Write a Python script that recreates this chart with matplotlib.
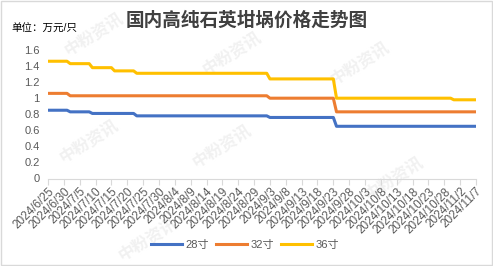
import datetime as dt
import matplotlib
matplotlib.use('Agg')
import matplotlib.pyplot as plt
from matplotlib.patches import Rectangle

plt.rcParams['font.family'] = ['Liberation Sans', 'Noto Sans CJK SC', 'DejaVu Sans']

# corner points of the step lines (2024)
dates = ['6/25', '7/1', '7/2', '7/8', '7/9', '7/15', '7/16', '7/22', '7/23',
         '9/2', '9/3', '9/23', '9/24', '10/30', '10/31', '11/7']
p28 = [0.85, 0.85, 0.83, 0.83, 0.81, 0.81, 0.81, 0.81, 0.78,
       0.78, 0.76, 0.76, 0.65, 0.65, 0.65, 0.65]
p32 = [1.06, 1.06, 1.03, 1.03, 1.03, 1.03, 1.03, 1.03, 1.03,
       1.03, 1.00, 1.00, 0.83, 0.83, 0.83, 0.83]
p36 = [1.46, 1.46, 1.43, 1.43, 1.38, 1.38, 1.34, 1.34, 1.31,
       1.31, 1.24, 1.24, 1.00, 1.00, 0.98, 0.98]

tick_labels = ['2024/6/25', '2024/6/30', '2024/7/5', '2024/7/10', '2024/7/15',
               '2024/7/20', '2024/7/25', '2024/7/30', '2024/8/4', '2024/8/9',
               '2024/8/14', '2024/8/19', '2024/8/24', '2024/8/29', '2024/9/3',
               '2024/9/8', '2024/9/13', '2024/9/18', '2024/9/23', '2024/9/28',
               '2024/10/3', '2024/10/8', '2024/10/13', '2024/10/18', '2024/10/23',
               '2024/10/28', '2024/11/2', '2024/11/7']


def to_date(s):
    parts = [int(v) for v in s.split('/')]
    if len(parts) == 2:
        parts = [2024] + parts
    return dt.datetime(*parts)


x = [to_date(d) for d in dates]
xt = [to_date(t) for t in tick_labels]

fig = plt.figure(figsize=(4.93, 2.66), dpi=100)
fig.patches.append(Rectangle((0.002, 0.004), 0.995, 0.992, transform=fig.transFigure,
                             fill=False, edgecolor='#d9d9d9', linewidth=1))

# faint watermarks
wm = [(0.19, 0.87), (0.47, 0.80), (0.73, 0.76), (0.18, 0.47),
      (0.45, 0.45), (0.80, 0.33), (0.30, 0.10)]
for wx, wy in wm:
    fig.text(wx, wy, '中粉资讯', rotation=32, fontsize=12, color='#f1f1f1',
             ha='center', va='center', fontweight='bold', zorder=-5)

ax = fig.add_axes([48 / 493, 1 - 178.5 / 266, 428 / 493, 128.5 / 266])
ax.patch.set_alpha(0)

ax.plot(x, p28, color='#4472C4', lw=2.2, label='28寸', solid_joinstyle='round')
ax.plot(x, p32, color='#ED7D31', lw=2.2, label='32寸', solid_joinstyle='round')
ax.plot(x, p36, color='#FFC000', lw=2.2, label='36寸', solid_joinstyle='round')

ax.set_xlim(xt[0], xt[-1])
ax.set_ylim(0, 1.6)
ax.set_yticks([0, 0.2, 0.4, 0.6, 0.8, 1.0, 1.2, 1.4, 1.6])
ax.set_yticklabels(['0', '0.2', '0.4', '0.6', '0.8', '1', '1.2', '1.4', '1.6'])
ax.set_xticks(xt)
ax.set_xticklabels(tick_labels, rotation=45, ha='right', rotation_mode='anchor')

for s in ['top', 'right', 'left']:
    ax.spines[s].set_visible(False)
ax.spines['bottom'].set_color('#d9d9d9')
ax.tick_params(axis='y', length=0, labelsize=8, labelcolor='#595959', pad=6)
ax.tick_params(axis='x', length=4, color='#d9d9d9', labelsize=8.5,
               labelcolor='#595959', pad=1)

fig.text(0.5, 1 - 20.5 / 266, '国内高纯石英坩埚价格走势图', ha='center', va='center',
         fontsize=13.4, fontweight='bold', color='#404040')
fig.text(11 / 493, 1 - 29 / 266, '单位：万元/只', ha='left', va='center',
         fontsize=7.6, color='#000000')

fig.legend(loc='center', bbox_to_anchor=(0.497, 1 - 245 / 266), ncol=3, frameon=False,
           fontsize=8, handlelength=2.8, handletextpad=0.3, columnspacing=0.6,
           labelcolor='#595959')

fig.savefig('out.png', dpi=100)
